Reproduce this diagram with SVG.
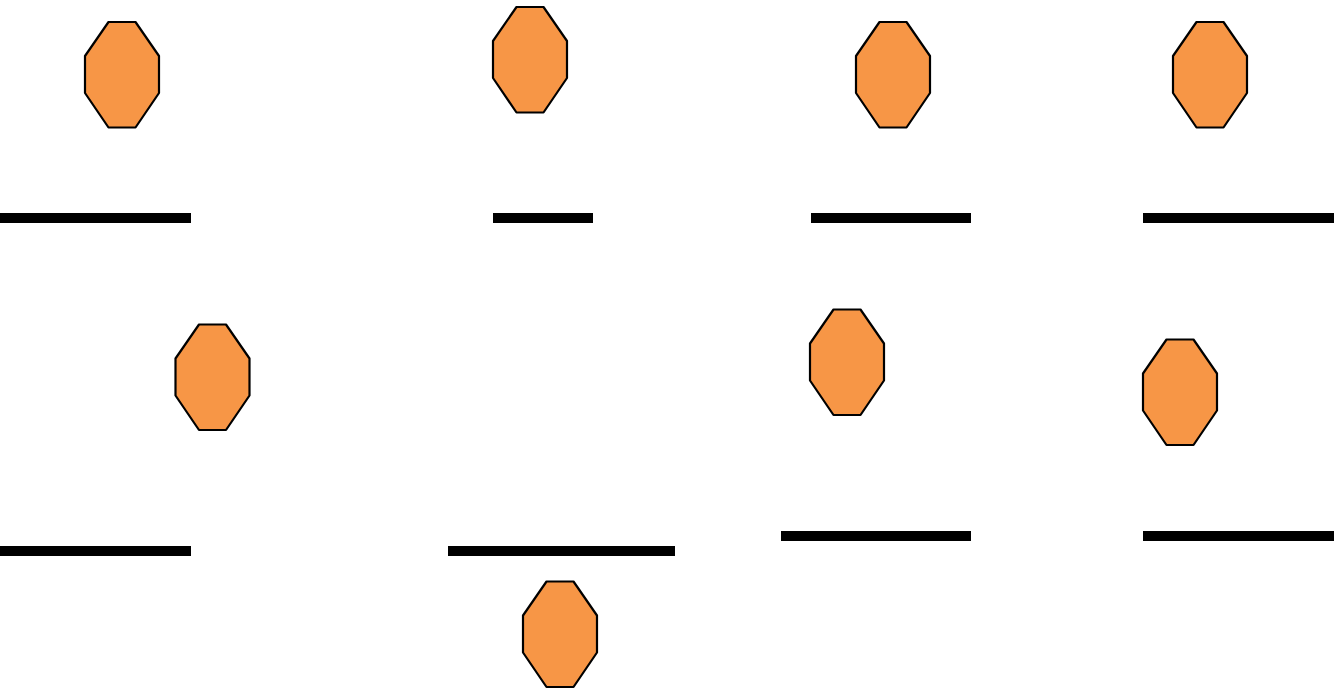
<svg xmlns="http://www.w3.org/2000/svg" width="1344" height="690" viewBox="0 0 1344 690">
<style>
.oct{fill:#f79646;stroke:#000;stroke-width:2.2;stroke-linejoin:round}
.bar{fill:#000}
</style>
<defs>
<polygon id="octShape" class="oct" points="23.5,0 50.5,0 74,34 74,71 50.5,105.5 23.5,105.5 0,71 0,34"/>
</defs>
<rect width="1344" height="690" fill="#fff"/>
<g id="node-oct1"><use href="#octShape" x="85" y="22"/></g>
<g id="node-oct2"><use href="#octShape" x="493" y="7"/></g>
<g id="node-oct3"><use href="#octShape" x="856" y="22"/></g>
<g id="node-oct4"><use href="#octShape" x="1173" y="22"/></g>
<g id="node-oct5"><use href="#octShape" x="175.5" y="324.5"/></g>
<g id="node-oct6"><use href="#octShape" x="523" y="581.5"/></g>
<g id="node-oct7"><use href="#octShape" x="810" y="309.5"/></g>
<g id="node-oct8"><use href="#octShape" x="1143" y="339.5"/></g>
<g id="node-bar1"><rect class="bar" x="0" y="213" width="191" height="10"/></g>
<g id="node-bar2"><rect class="bar" x="493" y="213" width="100" height="10"/></g>
<g id="node-bar3"><rect class="bar" x="811" y="213" width="160" height="10"/></g>
<g id="node-bar4"><rect class="bar" x="1143" y="213" width="191" height="10"/></g>
<g id="node-bar5"><rect class="bar" x="0" y="546" width="191" height="10"/></g>
<g id="node-bar6"><rect class="bar" x="448" y="546" width="227" height="10"/></g>
<g id="node-bar7"><rect class="bar" x="781" y="531" width="190" height="10"/></g>
<g id="node-bar8"><rect class="bar" x="1143" y="531" width="191" height="10"/></g>
<g id="connectors"></g>
</svg>
